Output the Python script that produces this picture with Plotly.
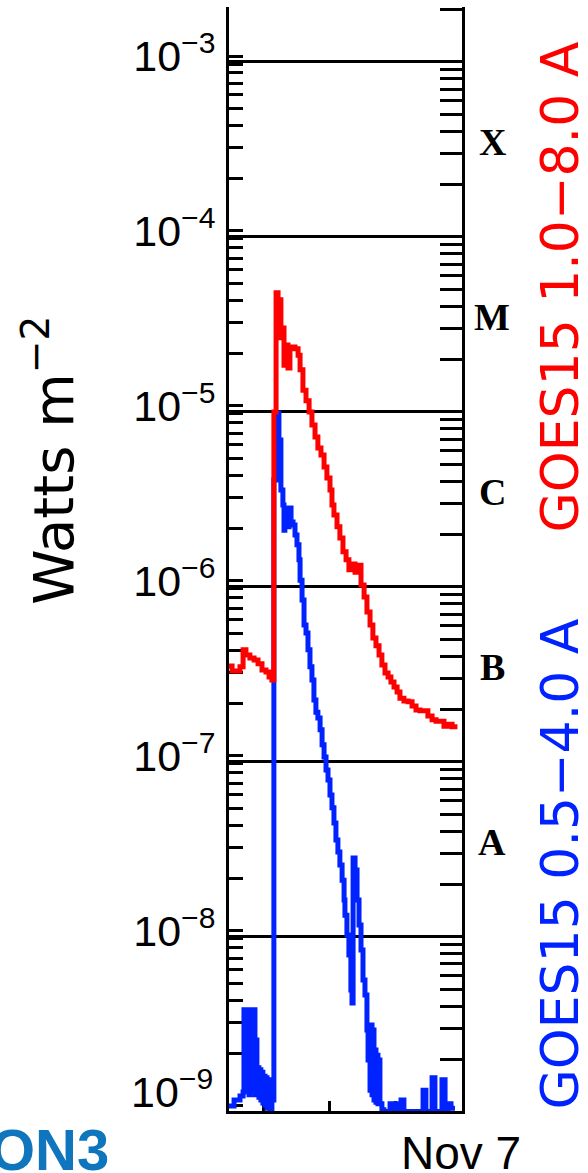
import plotly.graph_objects as go

# ---- data (time in hours after Nov 6 00:00 UT, flux in W m^-2) ----
red_t = [13.41, 13.55, 13.91, 14.05, 14.18, 14.36, 14.55, 14.73, 14.91, 15.09, 15.23, 15.36,
         15.45, 15.55, 15.64, 15.68, 15.77, 15.86, 15.91, 16.00, 16.09, 16.18, 16.41, 16.55,
         16.64, 16.77, 16.91, 17.05, 17.18, 17.32, 17.45, 17.59, 17.73, 17.86, 18.00, 18.09,
         18.18, 18.32, 18.45, 18.59, 18.73, 18.86, 19.00, 19.14, 19.27, 19.41, 19.55, 19.68,
         19.82, 19.95, 20.09, 20.23, 20.36, 20.50, 20.64, 20.77, 20.91, 21.05, 21.18, 21.36,
         21.55, 21.73, 21.91, 22.09, 22.27, 22.45, 22.64, 22.82, 23.00, 23.18, 23.36, 23.55, 23.68]
red_flux = [3.27e-7, 3.06e-7, 3.23e-7, 4.04e-7, 3.78e-7, 3.63e-7, 3.54e-7, 3.36e-7, 3.10e-7, 3.02e-7, 2.83e-7, 2.72e-7,
            9.25e-6, 4.43e-5, 2.72e-5, 4.04e-5, 2.45e-5, 2.79e-5, 1.71e-5, 2.23e-5, 1.65e-5, 2.17e-5, 2.12e-5, 1.95e-5,
            1.61e-5, 1.23e-5, 1.07e-5, 9.25e-6, 7.78e-6, 6.65e-6, 5.75e-6, 5.25e-6, 4.48e-6, 3.88e-6, 3.31e-6, 2.72e-6,
            2.38e-6, 2.04e-6, 1.76e-6, 1.47e-6, 1.32e-6, 1.16e-6, 1.25e-6, 1.12e-6, 1.23e-6, 9.48e-7, 8.11e-7, 6.65e-7,
            5.61e-7, 4.72e-7, 4.26e-7, 3.78e-7, 3.31e-7, 2.98e-7, 2.83e-7, 2.65e-7, 2.48e-7, 2.32e-7, 2.14e-7, 2.06e-7,
            2.04e-7, 1.93e-7, 1.83e-7, 1.81e-7, 1.81e-7, 1.69e-7, 1.61e-7, 1.58e-7, 1.58e-7, 1.48e-7, 1.52e-7, 1.47e-7, 1.52e-7]

blue_t = [13.41, 13.64, 13.91, 14.05,
          14.09, 14.14, 14.18, 14.23, 14.27, 14.32, 14.36, 14.41, 14.45, 14.50, 14.55, 14.59, 14.64, 14.68,
          14.73, 14.77, 14.82, 14.86, 14.91, 14.95, 15.00, 15.05, 15.09, 15.14, 15.18, 15.27, 15.36,
          15.45, 15.59, 15.68, 15.77, 15.86, 15.91, 15.95, 16.05, 16.14, 16.23, 16.32, 16.41, 16.50, 16.59,
          16.64, 16.73, 16.82, 16.91, 17.00, 17.09, 17.18, 17.27, 17.36, 17.45, 17.55, 17.64, 17.73, 17.82,
          17.91, 18.00, 18.09, 18.18, 18.27, 18.36, 18.45, 18.55, 18.64, 18.68, 18.77, 18.86, 18.95, 19.00,
          19.05, 19.14, 19.23, 19.32, 19.41, 19.50, 19.59, 19.68, 19.73, 19.77, 19.82, 19.86, 19.91, 19.95,
          20.00, 20.05, 20.09, 20.14, 20.18, 20.23, 20.27, 20.36, 20.45, 20.59, 20.73, 20.86, 21.00, 21.14,
          21.23, 21.36, 21.55, 21.77, 22.00, 22.23, 22.36, 22.50, 22.64, 22.77, 22.95, 23.09, 23.23, 23.36,
          23.50, 23.68]
blue_flux = [1.00e-9, 1.08e-9, 1.14e-9, 1.20e-9,
             3.54e-9, 1.23e-9, 3.31e-9, 1.41e-9, 3.31e-9, 1.16e-9, 3.54e-9, 1.32e-9, 3.31e-9, 1.23e-9, 3.54e-9, 1.16e-9, 2.38e-9, 1.16e-9,
             1.65e-9, 1.12e-9, 1.61e-9, 1.08e-9, 1.56e-9, 1.04e-9, 1.48e-9, 1.01e-9, 1.45e-9, 9.7e-10, 1.41e-9, 8.9e-10, 1.08e-9,
             3.78e-6, 9.12e-6, 6.40e-6, 3.31e-6, 2.72e-6, 1.95e-6, 2.55e-6, 2.04e-6, 2.61e-6, 2.17e-6, 2.09e-6, 1.83e-6, 1.61e-6, 1.32e-6,
             1.01e-6, 7.78e-7, 5.61e-7, 5.05e-7, 4.04e-7, 3.23e-7, 2.72e-7, 2.09e-7, 1.78e-7, 1.65e-7, 1.41e-7, 1.16e-7, 9.87e-8, 8.32e-8,
             7.29e-8, 5.98e-8, 5.05e-8, 4.14e-8, 3.31e-8, 2.83e-8, 2.38e-8, 1.95e-8, 1.50e-8, 1.23e-8, 9.48e-9, 7.29e-9, 4.60e-9, 3.88e-9,
             2.61e-8, 2.23e-8, 1.50e-8, 1.08e-8, 7.78e-9, 5.25e-9, 4.31e-9, 2.72e-9, 1.83e-9, 2.90e-9, 1.23e-9, 2.90e-9, 1.16e-9, 2.72e-9,
             1.08e-9, 2.09e-9, 1.05e-9, 1.95e-9, 1.03e-9, 1.83e-9, 1.03e-9, 9.5e-10, 8.9e-10, 9.3e-10, 1.03e-9, 9.3e-10, 1.03e-9, 9.3e-10,
             1.08e-9, 9.3e-10, 9.3e-10, 9.3e-10, 9.3e-10, 1.23e-9, 9.3e-10, 9.3e-10, 1.45e-9, 9.3e-10, 9.3e-10, 1.41e-9, 9.3e-10, 1.03e-9,
             9.7e-10, 9.7e-10]

x_ticks = [15, 18, 21, 24]
decade_exps = [-9, -8, -7, -6, -5, -4, -3]
class_letters = ["A", "B", "C", "M", "X"]
class_exps = [-8, -7, -6, -5, -4]
red_label = "GOES15 1.0\u22128.0 A"
blue_label = "GOES15 0.5\u22124.0 A"

# ---- axes tick sets ----
left_vals, left_text = [], []
for n in decade_exps:
    for k in range(1, 10):
        if n == -3 and k > 1:
            break
        left_vals.append(k * 10.0 ** n)
        left_text.append("10<sup>\u2212%d</sup>" % (-n) if (k == 1 and n != -9) else "")
right_major = [10.0 ** n for n in decade_exps]
right_minor = [k * 10.0 ** n for n in range(-10, -2) for k in range(2, 10)]

LRANGE = [-9.029, -2.72]
OFF = 0.034
RRANGE = [LRANGE[0] + OFF, LRANGE[1] + OFF]

RED = "#ff0000"
BLUE = "#0022ff"

fig = go.Figure()
fig.add_trace(go.Scatter(x=blue_t, y=blue_flux, mode="lines", line=dict(color=BLUE, width=5, shape="hv"),
                         showlegend=False, hoverinfo="skip"))
fig.add_trace(go.Scatter(x=red_t, y=red_flux, mode="lines", line=dict(color=RED, width=5, shape="hv"),
                         showlegend=False, hoverinfo="skip"))
fig.add_trace(go.Scatter(x=[None], y=[None], yaxis="y2", showlegend=False, hoverinfo="skip"))
fig.add_trace(go.Scatter(x=[None], y=[None], yaxis="y3", showlegend=False, hoverinfo="skip"))

axis_font = dict(family="Liberation Sans, Arial, sans-serif", size=43, color="black")

fig.update_layout(
    width=588, height=1173,
    margin=dict(l=229, r=126, t=7, b=62, pad=0),
    paper_bgcolor="white", plot_bgcolor="white",
    xaxis=dict(range=[13.41, 24.0], showline=True, linecolor="black", linewidth=3,
               ticks="inside", ticklen=10, tickwidth=3, tickcolor="black",
               tickvals=x_ticks, showticklabels=False, showgrid=False, zeroline=False,
               layer="below traces"),
    yaxis=dict(type="log", range=LRANGE, showline=True, linecolor="black", linewidth=3,
               ticks="inside", ticklen=14, tickwidth=3, tickcolor="black",
               tickvals=left_vals, ticktext=left_text, tickfont=axis_font,
               ticklabelstandoff=2, showgrid=False, zeroline=False, layer="below traces"),
    yaxis2=dict(type="log", range=RRANGE, overlaying="y", side="right", showline=True,
                linecolor="black", linewidth=3, ticks="inside", ticklen=22, tickwidth=3,
                tickcolor="black", tickvals=right_major, showticklabels=False,
                showgrid=True, gridcolor="black", gridwidth=3, zeroline=False, layer="below traces"),
    yaxis3=dict(type="log", range=RRANGE, overlaying="y", side="right", showline=False,
                ticks="inside", ticklen=22, tickwidth=3, tickcolor="black",
                tickvals=right_minor, showticklabels=False, showgrid=False, zeroline=False,
                layer="below traces"),
)

sans = "DejaVu Sans, Liberation Sans, sans-serif"
annotations = []
# y-axis title
annotations.append(dict(text="Watts m<sup>\u22122</sup>", xref="paper", yref="paper", x=-0.768, y=0.589,
                        textangle=-90, showarrow=False, xanchor="center", yanchor="middle",
                        font=dict(family=sans, size=56, color="black")))
# bottom decade label (drawn slightly above its tick, as in the original)
annotations.append(dict(text="10<sup>\u22129</sup>", xref="paper", yref="paper", x=-0.06, y=0.02,
                        showarrow=False, xanchor="right", yanchor="middle", font=axis_font))
# flare class letters
for letter, e in zip(class_letters, class_exps):
    annotations.append(dict(text="<b>%s</b>" % letter, xref="paper", yref="y2", x=1.129, y=e + 0.54,
                            showarrow=False, xanchor="center", yanchor="middle",
                            font=dict(family="Liberation Serif, Times New Roman, serif", size=38, color="black")))
# channel labels
annotations.append(dict(text=red_label, xref="paper", yref="paper", x=1.4206, y=0.7468, textangle=-90,
                        showarrow=False, xanchor="center", yanchor="middle",
                        font=dict(family=sans, size=52, color=RED)))
annotations.append(dict(text=blue_label, xref="paper", yref="paper", x=1.4206, y=0.2242, textangle=-90,
                        showarrow=False, xanchor="center", yanchor="middle",
                        font=dict(family=sans, size=52, color=BLUE)))
# date label
annotations.append(dict(text="Nov 7", xref="paper", yref="paper", x=0.9957, y=-0.038,
                        showarrow=False, xanchor="center", yanchor="middle",
                        font=dict(family="Liberation Sans, Arial, sans-serif", size=46, color="black")))
# cropped watermark text
annotations.append(dict(text="<b>ON3</b>", xref="paper", yref="paper", x=-1.034, y=-0.0036,
                        showarrow=False, xanchor="left", yanchor="top",
                        font=dict(family="Liberation Sans, Arial, sans-serif", size=58, color="#0f75bc")))
fig.update_layout(annotations=annotations)

fig.write_html("out.html", config={"displayModeBar": False},
               post_script="document.body.style.margin='0px';")
